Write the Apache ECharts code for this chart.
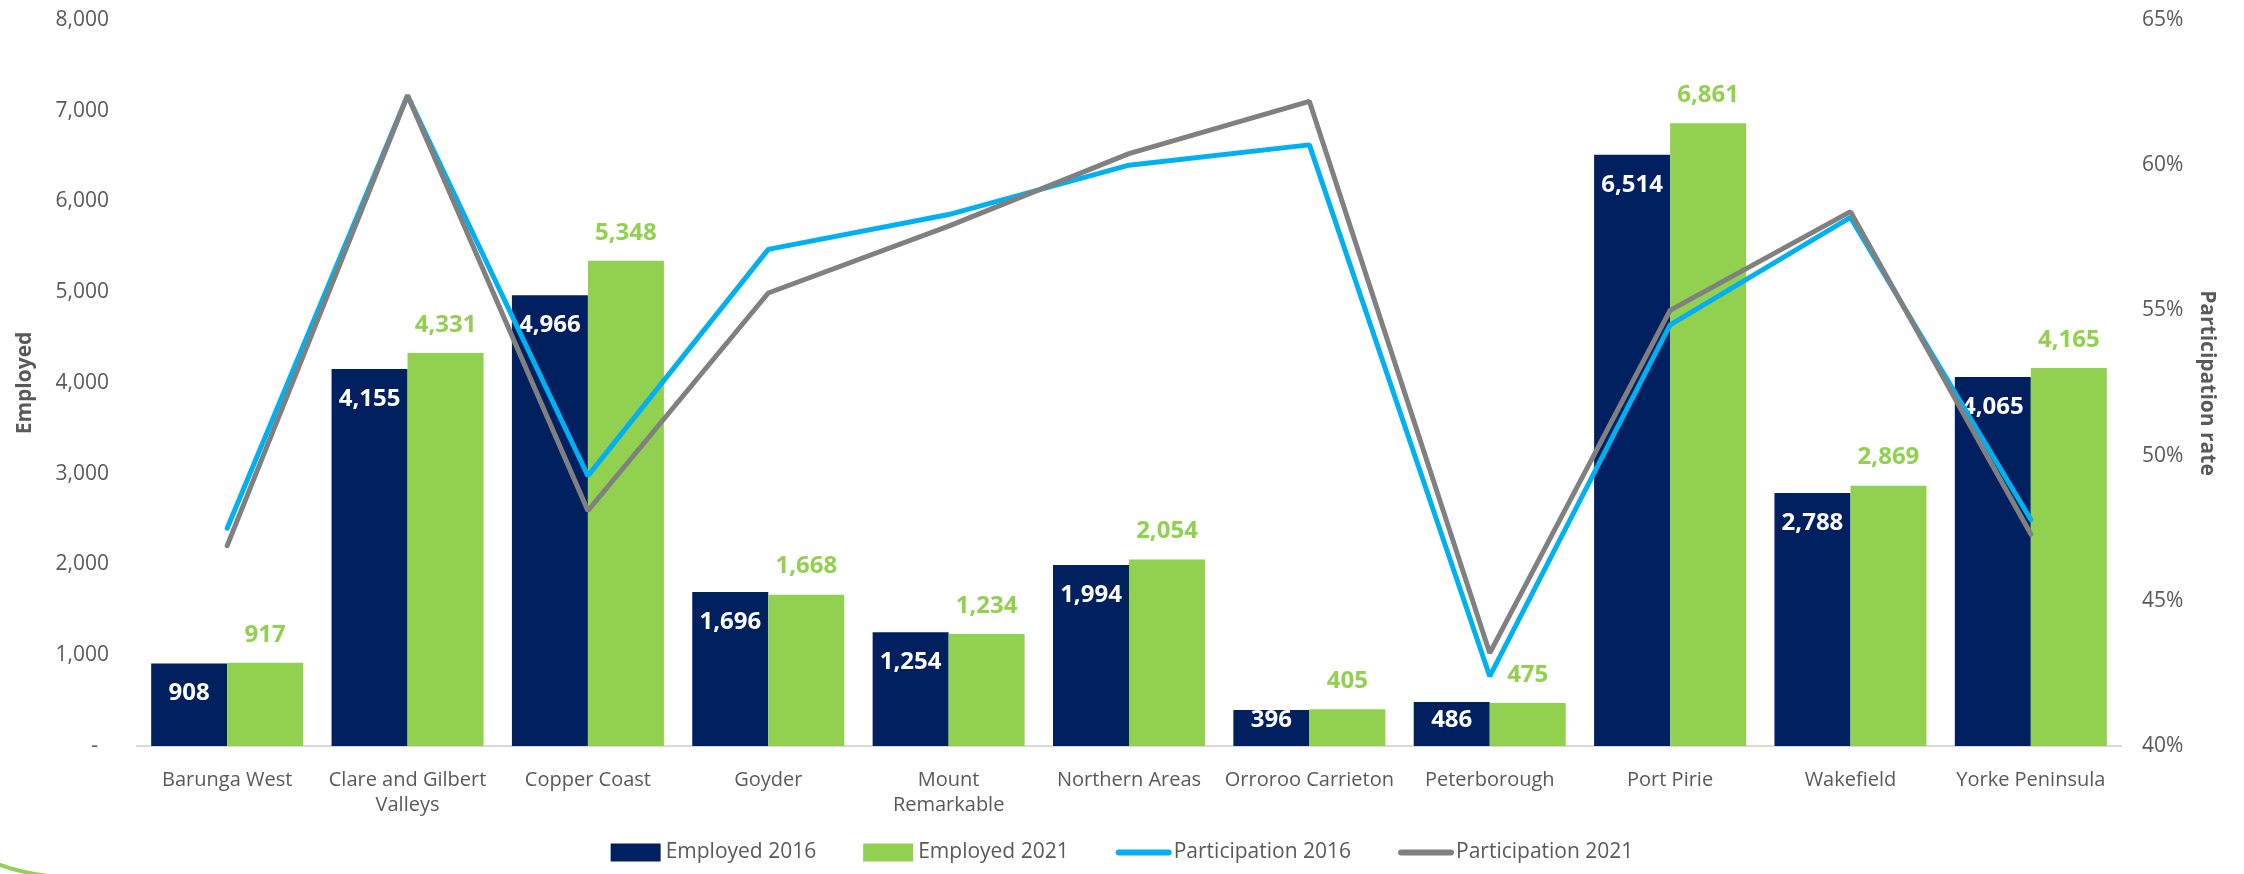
<!DOCTYPE html>
<html>
<head>
<meta charset="utf-8">
<script src="https://cdn.jsdelivr.net/npm/echarts@6/dist/echarts.min.js"></script>
<style>
  html, body { margin: 0; padding: 0; background: #fff; }
  #chart_id { width: 2244px; height: 874px; }
</style>
</head>
<body>
<div id="chart_id"></div>
<script>
// regions (line breaks as in the original axis)
const categories = ['Barunga West', 'Clare and Gilbert\nValleys', 'Copper Coast', 'Goyder', 'Mount\nRemarkable',
  'Northern Areas', 'Orroroo Carrieton', 'Peterborough', 'Port Pirie', 'Wakefield', 'Yorke Peninsula'];
const employed2016 = [908, 4155, 4966, 1696, 1254, 1994, 396, 486, 6514, 2788, 4065];
const employed2021 = [917, 4331, 5348, 1668, 1234, 2054, 405, 475, 6861, 2869, 4165];
// participation rate, %
const participation2016 = [47.5, 62.4, 49.3, 57.1, 58.3, 60.0, 60.7, 42.4, 54.5, 58.2, 47.8];
const participation2021 = [46.9, 62.4, 48.1, 55.6, 57.9, 60.4, 62.2, 43.2, 55.0, 58.4, 47.3];
const employedTicks = [0, 1000, 2000, 3000, 4000, 5000, 6000, 7000, 8000];
const rateTicks = [40, 45, 50, 55, 60, 65];

const FONT = 'Open Sans';
const GREY_TXT = '#595959';
const NAVY = '#002060';
const GREEN = '#92D050';
const BLUE = '#00B0F0';
const GREY = '#808080';

const fmt = v => v.toLocaleString('en-US');

// short bars: excel pushes the label down to the bottom of the bar
const navyData = employed2016.map(v => v < 700
  ? { value: v, label: { position: 'insideBottom', distance: 14 } }
  : v);

const chart = echarts.init(document.getElementById('chart_id'));
const option = {
  animation: false,
  textStyle: { fontFamily: FONT },
  grid: { left: 137, right: 123, top: 20, bottom: 128 },
  legend: {
    bottom: 6,
    left: 'center',
    itemWidth: 50,
    itemHeight: 18,
    itemGap: 47,
    textStyle: { fontFamily: FONT, fontSize: 21, color: GREY_TXT },
    data: [
      { name: 'Employed 2016', icon: 'rect' },
      { name: 'Employed 2021', icon: 'rect' },
      { name: 'Participation 2016', lineStyle: { width: 6, cap: 'round' }, itemStyle: { opacity: 0 } },
      { name: 'Participation 2021', lineStyle: { width: 6, cap: 'round' }, itemStyle: { opacity: 0 } }
    ]
  },
  xAxis: [{
    type: 'category',
    data: categories,
    boundaryGap: true,
    axisTick: { show: false },
    axisLine: { show: true, lineStyle: { color: '#D9D9D9', width: 2 } },
    axisLabel: {
      interval: 0,
      margin: 22,
      fontFamily: FONT,
      fontSize: 20,
      lineHeight: 25,
      color: GREY_TXT
    }
  }],
  yAxis: [
    {
      type: 'value',
      min: employedTicks[0],
      max: employedTicks[employedTicks.length - 1],
      interval: 1000,
      name: 'Employed',
      nameLocation: 'middle',
      nameGap: 101,
      nameTextStyle: { fontFamily: FONT, fontSize: 21, fontWeight: 'bold', color: GREY_TXT },
      splitLine: { show: false },
      axisTick: { show: false },
      axisLine: { show: false },
      axisLabel: {
        margin: 28,
        fontFamily: FONT,
        fontSize: 21,
        color: GREY_TXT,
        formatter: v => v === 0 ? '-  ' : fmt(v)
      }
    },
    {
      type: 'value',
      min: rateTicks[0],
      max: rateTicks[rateTicks.length - 1],
      interval: 5,
      name: 'Participation rate',
      nameLocation: 'middle',
      nameRotate: -90,
      nameGap: 75,
      nameTextStyle: { fontFamily: FONT, fontSize: 21, fontWeight: 'bold', color: GREY_TXT },
      splitLine: { show: false },
      axisTick: { show: false },
      axisLine: { show: false },
      axisLabel: {
        margin: 21,
        fontFamily: FONT,
        fontSize: 21,
        color: GREY_TXT,
        formatter: '{value}%'
      }
    }
  ],
  series: [
    {
      name: 'Employed 2016',
      type: 'bar',
      data: navyData,
      barWidth: 76,
      barGap: '0%',
      itemStyle: { color: NAVY },
      label: {
        show: true,
        position: 'insideTop',
        distance: 18,
        color: '#fff',
        fontFamily: FONT,
        fontSize: 24,
        fontWeight: 'bold',
        formatter: p => fmt(p.value)
      }
    },
    {
      name: 'Employed 2021',
      type: 'bar',
      data: employed2021,
      barWidth: 76,
      barGap: '0%',
      itemStyle: { color: GREEN },
      label: {
        show: true,
        position: 'top',
        distance: 16,
        color: GREEN,
        fontFamily: FONT,
        fontSize: 24,
        fontWeight: 'bold',
        formatter: p => fmt(p.value)
      }
    },
    {
      name: 'Participation 2016',
      type: 'line',
      yAxisIndex: 1,
      data: participation2016,
      symbol: 'none',
      lineStyle: { color: BLUE, width: 5, cap: 'round' },
      itemStyle: { color: BLUE },
      z: 3
    },
    {
      name: 'Participation 2021',
      type: 'line',
      yAxisIndex: 1,
      data: participation2021,
      symbol: 'none',
      lineStyle: { color: GREY, width: 5, cap: 'round' },
      itemStyle: { color: GREY },
      z: 4
    }
  ],
  graphic: [{
    // little green swoosh in the bottom-left corner
    type: 'bezierCurve',
    silent: true,
    shape: { x1: -2, y1: 864, cpx1: 18, cpy1: 872, x2: 48, y2: 876 },
    style: { stroke: GREEN, lineWidth: 4, fill: null }
  }]
};
chart.setOption(option);
</script>
</body>
</html>
